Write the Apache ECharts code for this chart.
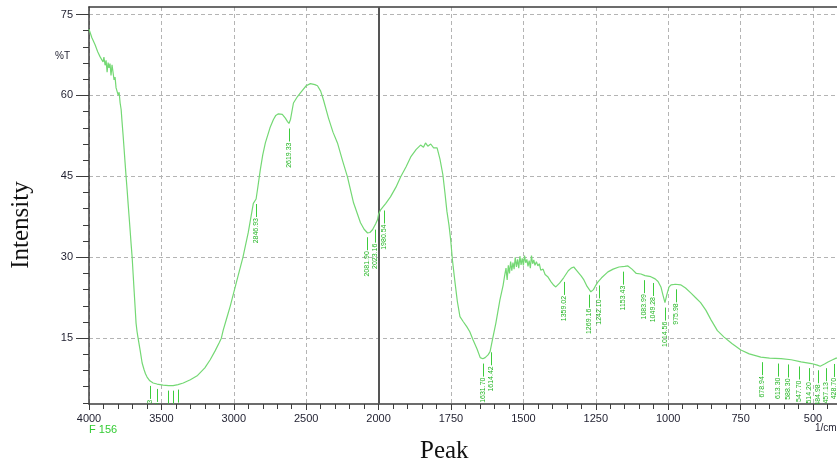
<!DOCTYPE html>
<html><head><meta charset="utf-8">
<script src="https://cdn.jsdelivr.net/npm/echarts@6.0.0/dist/echarts.min.js"></script>
<style>html,body{margin:0;padding:0;background:#fff}#c{width:837px;height:467px}</style>
</head><body><div id="c"></div>
<script>
const waveNumbers = [4000,3980,3958,3940,3924,3912,3903,3897,3889,3882,3875,3868,3862,3855,3848,3841,3834,3827,3820,3813,3806,3799,3792,3785,3778,3772,3765,3758,3751,3744,3737,3730,3723,3716,3709,3702,3695,3688,3681,3675,3668,3661,3647,3633,3620,3610,3599,3580,3557,3530,3488,3450,3419,3385,3349,3300,3250,3200,3163,3130,3100,3086,3073,3050,3024,3000,2970,2937,2900,2865,2846,2835,2817,2800,2782,2750,2727,2710,2692,2665,2644,2630,2619,2608,2588,2560,2540,2500,2471,2440,2422,2400,2381,2346,2315,2284,2250,2215,2173,2125,2100,2076,2060,2042,2020,2007,2000,
1993,1975,1959,1940,1924,1905,1889,1870,1855,1845,1838,1830,1820,1810,1798,1788,1778,1771,1764,1757,1751,1745,1736,1728,1719,1708,1695,1685,1674,1660,1649,1640,1632,1622,1615,1605,1595,1581,1570,1565,1560,1556,1552,1548,1544,1540,1536,1532,1528,1524,1520,1516,1512,1508,1504,1500,1496,1492,1488,1484,1480,1476,1472,1468,1464,1460,1455,1450,1445,1440,1432,1425,1416,1405,1395,1388,1375,1361,1345,1335,1326,1315,1300,1291,1280,1267,1258,1250,1243,1230,1208,1190,1170,1150,1139,1125,1110,1094,1080,1060,1045,1035,1025,1018,1011,1005,997,990,975,957,940,922,905,888,870,852,830,807,780,749,720,680,650,610,575,541,505,485,475,460,448,432,420,417];
const transmittance = [72.3,70.7,69.4,68.1,67.2,66.9,66.2,67.1,65.6,66.5,64.3,66.1,65.1,65.9,63.7,65.7,64.3,62.9,63.4,61.4,61.7,60.1,60.6,58.6,57.4,55.2,52.8,50.2,47.6,45.0,42.6,40.0,37.5,35.0,32.4,30.0,26.8,23.6,20.5,17.8,16.2,15.0,12.8,10.4,9.2,8.4,7.8,7.1,6.7,6.5,6.3,6.2,6.2,6.4,6.7,7.3,8.1,9.5,11.0,12.6,14.2,15.0,16.5,18.6,21.0,23.5,26.6,30.0,34.6,40.0,40.8,42.8,46.2,49.0,51.2,54.0,55.5,56.3,56.6,56.5,55.8,55.2,54.8,55.6,58.6,59.8,60.5,61.8,62.2,62.0,61.8,60.8,59.2,55.8,53.2,51.2,48.0,44.9,40.1,36.4,35.2,34.5,34.6,35.1,36.2,37.0,38.0,
38.8,40.0,41.2,43.0,44.9,46.8,48.6,50.0,50.8,50.4,51.2,50.6,51.0,50.3,50.3,48.2,45.3,42.0,38.5,36.0,33.2,29.5,25.3,21.8,19.0,18.1,17.1,16.2,14.7,13.0,11.4,11.2,11.4,11.9,12.5,15.2,17.8,22.1,24.8,26.5,28.0,25.8,28.5,27.0,29.2,27.5,29.0,27.8,30.0,28.2,29.6,28.0,30.2,28.6,29.8,28.5,30.3,29.0,29.6,28.3,29.4,28.0,30.3,28.8,29.5,28.5,29.2,28.4,28.8,27.6,27.8,26.8,26.4,25.5,24.8,24.5,25.2,26.2,27.5,28.0,28.2,27.5,26.5,25.8,24.6,23.6,24.0,24.8,25.4,26.2,27.3,27.8,28.2,28.3,28.4,27.8,27.0,26.9,26.6,26.4,26.0,25.5,24.5,23.0,21.6,23.0,24.5,24.9,25.0,24.9,24.3,23.4,22.5,21.6,20.2,18.4,16.4,15.2,14.0,12.8,12.1,11.5,11.3,11.2,11.0,10.6,10.3,10.0,9.8,10.2,10.6,11.0,11.3,11.3];

const xTickLabels = [4000,3500,3000,2500,2000,1750,1500,1250,1000,750,500];
const yTickLabels = [15,30,45,60,75];
const peakWaveNumbers = [3579,3533,3454,3420,3385,2846,2619,2081,2023,1981,1641,1612,1359,1272,1238,1157,1084,1051,1011,973,677,620,585,548,514,484,455,426];
const peakTexts = ["3579.13","3533.35","3454.48","3420.70","3385.99","2846.93","2619.33","2081.90","2023.16","1980.54","1631.70","1614.42","1359.02","1269.16","1242.10","1153.43","1083.99","1049.28","1014.56","975.98","678.94","613.30","588.30","547.70","514.20","484.98","457.13","428.70"];

// FTIR axis: scale doubles below 2000 1/cm
function toAxis(wn){ return wn <= 2000 ? wn : 2000 + (wn - 2000) / 2; }
function fromAxis(u){ return u <= 2000 ? u : 2000 + (u - 2000) * 2; }
function curveAt(wn){
  for (let i = 0; i < waveNumbers.length - 1; i++) {
    const a = waveNumbers[i], b = waveNumbers[i + 1];
    if (wn <= a && wn >= b) { const t = (a - wn) / (a - b); return transmittance[i] + t * (transmittance[i + 1] - transmittance[i]); }
  }
  return transmittance[transmittance.length - 1];
}

const xMajor = xTickLabels.map(toAxis);
const xMinor = []; for (let u = 450; u < 3000; u += 50) if (u % 250 !== 0) xMinor.push(u);
const yMinor = []; for (let v = 3; v <= 75; v += 3) if (v % 15 !== 0) yMinor.push(v);

const axisColor = '#3c3c3c';
const labelColor = '#1f1f2f';
const xRange = {min: 417, max: 3000};
const yRange = {min: 2.8, max: 76.4};

const chart = echarts.init(document.getElementById('c'), null, {renderer: 'canvas'});
chart.setOption({
  animation: false,
  backgroundColor: '#fff',
  grid: {left: 89, right: 0, top: 7, bottom: 63, containLabel: false},
  xAxis: [
    {type: 'value', position: 'bottom', inverse: true, min: xRange.min, max: xRange.max,
     axisLine: {show: true, onZero: false, lineStyle: {color: axisColor, width: 1.5}},
     axisTick: {show: true, customValues: xMajor, length: 6, lineStyle: {color: axisColor}},
     axisLabel: {customValues: xMajor, formatter: v => String(Math.round(fromAxis(v))), color: labelColor, fontSize: 11, fontFamily: 'Liberation Sans', margin: 9},
     splitLine: {show: true, lineStyle: {color: '#b4b4b4', type: [4, 3], width: 1}}},
    {type: 'value', position: 'bottom', inverse: true, min: xRange.min, max: xRange.max,
     axisLine: {show: false, onZero: false},
     axisTick: {show: true, customValues: xMinor, length: 5, lineStyle: {color: axisColor}},
     axisLabel: {show: false}, splitLine: {show: false}},
    {type: 'value', position: 'top', inverse: true, min: xRange.min, max: xRange.max,
     axisLine: {show: true, onZero: false, lineStyle: {color: axisColor, width: 1.5}},
     axisTick: {show: false}, axisLabel: {show: false}, splitLine: {show: false}}
  ],
  yAxis: [
    {type: 'value', position: 'left', min: yRange.min, max: yRange.max,
     axisLine: {show: true, onZero: false, lineStyle: {color: axisColor, width: 1.5}},
     axisTick: {show: true, customValues: yTickLabels, length: 13, lineStyle: {color: axisColor}},
     axisLabel: {customValues: yTickLabels, color: labelColor, fontSize: 11, fontFamily: 'Liberation Sans', margin: 16},
     splitLine: {show: true, lineStyle: {color: '#b4b4b4', type: [4, 3], width: 1}}},
    {type: 'value', position: 'left', min: yRange.min, max: yRange.max,
     axisLine: {show: false, onZero: false},
     axisTick: {show: true, customValues: yMinor, length: 6, lineStyle: {color: axisColor}},
     axisLabel: {show: false}, splitLine: {show: false}}
  ],
  series: [
    {type: 'line', xAxisIndex: 0, yAxisIndex: 0, showSymbol: false, symbol: 'none',
     data: waveNumbers.map((w, i) => [toAxis(w), transmittance[i]]),
     lineStyle: {color: '#74d874', width: 1.2},
     markLine: {silent: true, symbol: 'none', label: {show: false}, z: 1,
       lineStyle: {color: '#555', width: 2, type: 'solid'}, data: [{xAxis: toAxis(2000)}]}},
    {type: 'custom', xAxisIndex: 0, yAxisIndex: 0, clip: true,
     data: peakWaveNumbers.map(w => [toAxis(w), curveAt(w)]),
     renderItem: function (params, api) {
       const p = api.coord([api.value(0), api.value(1)]);
       const x = Math.round(p[0]) + 0.5;
       const y0 = p[1] + 5, y1 = p[1] + 18;
       return {type: 'group', children: [
         {type: 'line', shape: {x1: x, y1: y0, x2: x, y2: y1}, style: {stroke: '#3ccc3c', lineWidth: 1}},
         {type: 'text', x: x, y: y1 + 1, rotation: Math.PI / 2,
          style: {text: peakTexts[params.dataIndex], fill: '#22b522', font: '7px "Liberation Sans"',
                  align: 'right', textAlign: 'right', verticalAlign: 'middle', textVerticalAlign: 'middle'}}
       ]};
     }}
  ],
  graphic: [
    {type: 'text', x: 55, y: 56, style: {text: '%T', font: '10px "Liberation Sans"', fill: labelColor, align: 'left', textAlign: 'left', verticalAlign: 'middle', textVerticalAlign: 'middle'}},
    {type: 'text', x: 89, y: 430, style: {text: 'F 156', font: '11px "Liberation Sans"', fill: '#33cc33', align: 'left', textAlign: 'left', verticalAlign: 'middle', textVerticalAlign: 'middle'}},
    {type: 'text', x: 815, y: 428, style: {text: '1/cm', font: '10px "Liberation Sans"', fill: labelColor, align: 'left', textAlign: 'left', verticalAlign: 'middle', textVerticalAlign: 'middle'}},
    {type: 'text', x: 420, y: 451, style: {text: 'Peak', font: '25px "Liberation Serif"', fill: '#111', align: 'left', textAlign: 'left', verticalAlign: 'middle', textVerticalAlign: 'middle'}},
    {type: 'text', x: 21, y: 225, rotation: Math.PI / 2, style: {text: 'Intensity', font: '25px "Liberation Serif"', fill: '#111', align: 'center', textAlign: 'center', verticalAlign: 'middle', textVerticalAlign: 'middle'}}
  ]
});
</script></body></html>
